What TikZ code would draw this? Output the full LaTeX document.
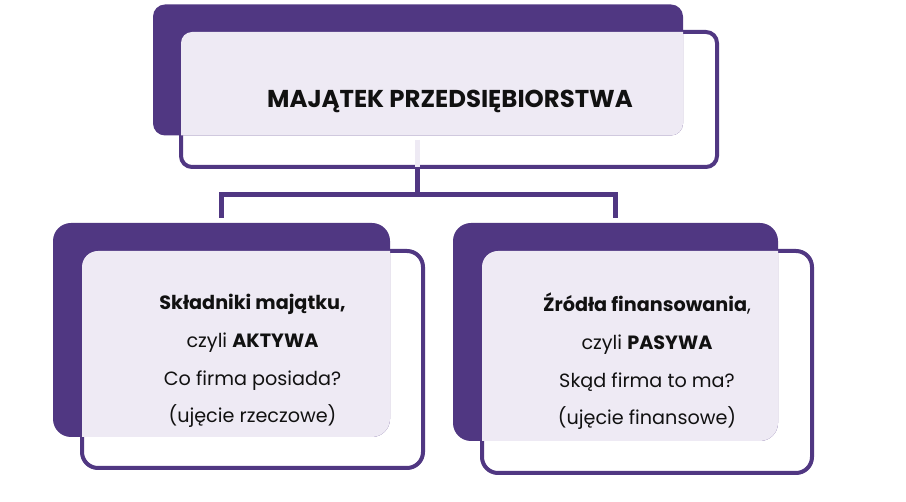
\documentclass[tikz,border=0pt]{standalone}
\usepackage{fontspec}
\setmainfont{Poppins}
\definecolor{mpurple}{RGB}{80,55,130}
\definecolor{mlav}{RGB}{238,234,244}
\definecolor{mtext}{RGB}{17,17,17}
\begin{document}
\begin{tikzpicture}[x=1pt,y=-1pt,
  outbox/.style={fill=white, draw=mpurple, line width=4pt, rounded corners=#1, inner sep=0pt, outer sep=0pt},
  backbox/.style={fill=mpurple, rounded corners=#1, inner sep=0pt, outer sep=0pt},
  conn/.style={draw=mpurple, line width=4.5pt},
  stubline/.style={draw=mlav, line width=4.5pt},
  titletext/.style={font=\fontsize{24.4}{28}\selectfont\bfseries, text=mtext, inner sep=0pt, anchor=base},
  bodytext/.style={font=\fontsize{19.2}{24}\selectfont, text=mtext, inner sep=0pt, anchor=base}]
\useasboundingbox (0,0) rectangle (906,502);
% outlined boxes
\node[outbox=11pt, minimum width=536pt, minimum height=135pt] (topout) at (449,99.5) {};
\node[outbox=16pt, minimum width=341pt, minimum height=217pt] (leftout) at (252.5,359.5) {};
\node[outbox=16pt, minimum width=330pt, minimum height=222pt] (rightout) at (647,362) {};
% connectors
\coordinate (stub) at (417.5,140);
\coordinate (bar) at (417.5,194.5);
\draw[stubline] (stub) -- (stub |- topout.south);
% back boxes
\node[backbox=12pt, minimum width=530pt, minimum height=131pt] (topback) at (418,70) {};
\node[backbox=18pt, minimum width=337pt, minimum height=214pt] (leftback) at (221.5,330) {};
\node[backbox=18pt, minimum width=325pt, minimum height=218pt] (rightback) at (615.5,332) {};
\draw[conn] (stub |- topout.south) -- (bar);
\draw[conn] ([yshift=5pt]leftback.north) |- (bar) -| ([yshift=5pt]rightback.north);
% lavender overlaps
\begin{scope}
  \clip[rounded corners=12pt] (topback.north west) rectangle (topback.south east);
  \fill[mlav, rounded corners=11pt] (topout.north west) rectangle (topout.south east);
\end{scope}
\begin{scope}
  \clip[rounded corners=18pt] (leftback.north west) rectangle (leftback.south east);
  \fill[mlav, rounded corners=16pt] (leftout.north west) rectangle (leftout.south east);
\end{scope}
\begin{scope}
  \clip[rounded corners=18pt] (rightback.north west) rectangle (rightback.south east);
  \fill[mlav, rounded corners=16pt] (rightout.north west) rectangle (rightout.south east);
\end{scope}
% texts
\node[titletext] (title) at (450,108) {MAJĄTEK PRZEDSIĘBIORSTWA};
\node[bodytext] (l1) at (252.5,310) {\textbf{Składniki majątku,}};
\node[bodytext] (l2) at (252.5,348) {czyli \textbf{AKTYWA}};
\node[bodytext] (l3) at (252.5,386) {Co firma posiada?};
\node[bodytext] (l4) at (252.5,423) {(ujęcie rzeczowe)};
\node[bodytext] (r1) at (647,312) {\textbf{Źródła finansowania},};
\node[bodytext] (r2) at (647,350) {czyli \textbf{PASYWA}};
\node[bodytext] (r3) at (647,388) {Skąd firma to ma?};
\node[bodytext] (r4) at (647,425) {(ujęcie finansowe)};
\end{tikzpicture}
\end{document}
